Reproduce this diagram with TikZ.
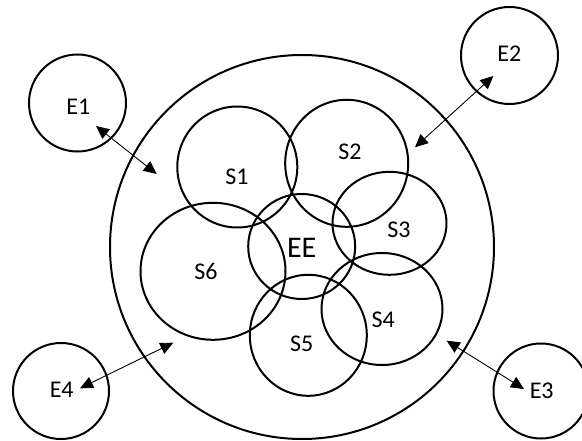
\documentclass[tikz,border=0pt]{standalone}
\usepackage{fontspec}
\setmainfont{Carlito}
\usetikzlibrary{shapes.geometric,arrows.meta}

\begin{document}
\begin{tikzpicture}[x=1pt, y=-1pt,
    ring/.style={draw, ellipse, inner sep=0pt, line width=2pt},
    tag/.style={inner sep=0pt, font=\fontsize{24}{26}\selectfont},
    link/.style={{Triangle[length=13pt,width=12pt]}-{Triangle[length=13pt,width=12pt]}, line width=0.9pt}]
    \useasboundingbox (0,0) rectangle (582,441);
    \clip (0,0) rectangle (582,441);

    % system and its parts
    \node[ring, minimum width=384pt, minimum height=384pt] (world) at (302,247) {};
    \node[ring, minimum width=107pt, minimum height=105pt] (ee) at (301.7,246.5) {};
    \node[ring, minimum width=120pt, minimum height=121pt] (s1) at (237.3,167) {};
    \node[ring, minimum width=123pt, minimum height=127pt] (s2) at (346.7,163.3) {};
    \node[ring, minimum width=114pt, minimum height=103pt] (s3) at (389.5,223.3) {};
    \node[ring, minimum width=121pt, minimum height=112pt] (s4) at (382,309) {};
    \node[ring, minimum width=117pt, minimum height=121pt] (s5) at (308.3,335.3) {};
    \node[ring, minimum width=145pt, minimum height=137pt] (s6) at (213,271.3) {};

    \node[tag, font=\fontsize{30}{32}\selectfont] (eetag) at (301.7,248.3) {EE};
    \node[tag] (s1tag) at (237,177) {S1};
    \node[tag] (s2tag) at (350,151.7) {S2};
    \node[tag] (s3tag) at (399,230) {S3};
    \node[tag] (s4tag) at (383.3,320) {S4};
    \node[tag] (s5tag) at (301.7,343.3) {S5};
    \node[tag] (s6tag) at (206,271.7) {S6};

    % environment
    \node[ring, minimum size=97pt] (e1) at (77.5,103) {};
    \node[ring, minimum size=97pt] (e2) at (509.5,55.5) {};
    \node[ring, minimum size=95pt] (e3) at (541,391) {};
    \node[ring, minimum size=96pt] (e4) at (61,391) {};

    \node[tag] (e1tag) at (78.3,106.7) {E1};
    \node[tag] (e2tag) at (509.3,54) {E2};
    \node[tag] (e3tag) at (541.7,390.7) {E3};
    \node[tag] (e4tag) at (61.7,390) {E4};

    \coordinate (e1out) at (96,126);
    \coordinate (e1in) at (156.7,174);
    \coordinate (e2out) at (493.3,76);
    \coordinate (e2in) at (415,147.3);
    \coordinate (e3out) at (524,389);
    \coordinate (e3in) at (446.7,340.7);
    \coordinate (e4out) at (80,388.3);
    \coordinate (e4in) at (173.3,342.7);

    \path[link]
    (e1out) edge (e1in)
    (e2out) edge (e2in)
    (e3out) edge (e3in)
    (e4out) edge (e4in);
\end{tikzpicture}
\end{document}
